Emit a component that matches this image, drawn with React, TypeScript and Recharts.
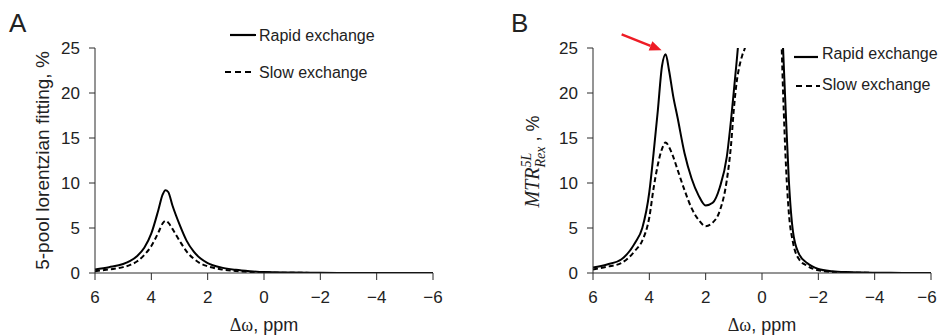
import { LineChart, Line, XAxis, YAxis, Label, ReferenceDot } from "recharts";

// chemical shift grid (ppm) and curve values (%)
const ppmA = [6, 5.5, 5, 4.75, 4.5, 4.25, 4, 3.75, 3.6, 3.5, 3.4, 3.25, 3, 2.75, 2.5, 2.25, 2, 1.5, 1, 0.5, 0, -1, -2, -3, -4, -5, -6];
const rapidA = [0.4, 0.65, 1.0, 1.35, 1.9, 2.8, 4.4, 7.0, 8.7, 9.2, 9.0, 7.5, 5.4, 3.6, 2.4, 1.6, 1.1, 0.6, 0.35, 0.2, 0.1, 0.05, 0.02, 0.01, 0, 0, 0];
const slowA = [0.2, 0.4, 0.65, 0.9, 1.3, 2.0, 3.0, 4.5, 5.5, 5.8, 5.6, 4.9, 3.6, 2.4, 1.6, 1.05, 0.75, 0.4, 0.22, 0.12, 0.06, 0.02, 0.01, 0, 0, 0, 0];

const ppmB = [6, 5.5, 5, 4.5, 4.25, 4, 3.85, 3.7, 3.55, 3.42, 3.3, 3.15, 3, 2.75, 2.5, 2.25, 2, 1.75, 1.5, 1.25, 1.1, 1, 0.9, 0.8, 0.7, 0.6, 0.5, 0.25, 0, -0.25, -0.5, -0.65, -0.75, -0.85, -0.95, -1.1, -1.3, -1.6, -2, -2.5, -3, -4, -5, -6];
const rapidB = [0.6, 0.95, 1.5, 3.4, 5.0, 9.0, 13.3, 18.0, 23.0, 24.3, 22.5, 19.6, 17.3, 13.3, 10.5, 8.6, 7.5, 7.8, 9.5, 12.9, 17.0, 20.2, 23.5, 27, 31, 36, 42, 60, 80, 70, 45, 32, 24.8, 17.4, 10.5, 4.6, 2.2, 1.1, 0.45, 0.2, 0.1, 0.03, 0.01, 0];
const slowB = [0.4, 0.7, 1.1, 2.5, 3.6, 6.2, 9.4, 12.0, 13.8, 14.5, 14.0, 12.9, 11.5, 9.2, 7.2, 5.9, 5.2, 5.6, 6.9, 10.3, 14.2, 18.2, 21.2, 23.0, 24.2, 25.1, 27, 40, 70, 60, 40, 30, 20, 12, 6.8, 3.4, 1.6, 0.8, 0.3, 0.12, 0.05, 0.01, 0, 0];

const xTicks = [6, 4, 2, 0, -2, -4, -6];
const yTicks = [0, 5, 10, 15, 20, 25];
const seriesNames = ["Rapid exchange", "Slow exchange"];

const SANS = '"Liberation Sans", Arial, Helvetica, sans-serif';
const SERIF = '"Liberation Serif", "Times New Roman", serif';
const AXIS = "#2b2b2b";
const DASH = "5 3";

const zip = (ppm: number[], rapid: number[], slow: number[]) =>
  ppm.map((p, i) => ({ ppm: p, rapid: rapid[i], slow: slow[i] }));

const dataA = zip(ppmA, rapidA, slowA);
const dataB = zip(ppmB, rapidB, slowB);

const fmt = (v: number) => (v < 0 ? `\u2212${Math.abs(v)}` : `${v}`);

// rapid-exchange peak near 3.5 ppm in panel B, for the red arrow
const peakB = dataB.filter((d) => d.ppm > 2).reduce((a, b) => (b.rapid > a.rapid ? b : a));

const XTitle = (props: any) => {
  const vb = props.viewBox || {};
  const cx = vb.x + vb.width / 2;
  return (
    <text x={cx} y={331} textAnchor="middle" fontSize={18} fill="#222">
      <tspan fontFamily={SERIF}>Δω</tspan>
      <tspan fontFamily={SANS}>, ppm</tspan>
    </text>
  );
};

const YTitleA = (props: any) => {
  const vb = props.viewBox || {};
  const cy = vb.y + vb.height / 2;
  const x = 49;
  return (
    <text x={x} y={cy} transform={`rotate(-90, ${x}, ${cy})`} textAnchor="middle" fontSize={19} fontFamily={SANS} fill="#222">
      5-pool lorentzian fitting, %
    </text>
  );
};

const YTitleB = (props: any) => {
  const vb = props.viewBox || {};
  const cy = vb.y + vb.height / 2 + 47;
  const x = 69;
  return (
    <text x={x} y={cy} transform={`rotate(-90, ${x}, ${cy})`} textAnchor="start" fill="#222">
      <tspan fontFamily={SERIF} fontStyle="italic" fontSize={20}>MTR</tspan>
      <tspan fontFamily={SERIF} fontStyle="italic" fontSize={14} dy={-8}>5L</tspan>
      <tspan fontFamily={SERIF} fontStyle="italic" fontSize={14} dx={-14.8} dy={14}>Rex</tspan>
      <tspan fontFamily={SANS} fontSize={18} dy={-6}>{" , %"}</tspan>
    </text>
  );
};

const Arrow = (props: any) => {
  const { cx, cy } = props;
  const tipX = cx - 4;
  const tipY = cy - 4;
  const tailX = cx - 44;
  const tailY = cy - 20;
  const dx = tipX - tailX;
  const dy = tipY - tailY;
  const len = Math.hypot(dx, dy);
  const ux = dx / len;
  const uy = dy / len;
  const head = 12;
  const half = 5;
  const bx = tipX - ux * head;
  const by = tipY - uy * head;
  return (
    <g>
      <line x1={tailX} y1={tailY} x2={bx} y2={by} stroke="#ee1c25" strokeWidth={2.5} />
      <polygon
        points={`${tipX},${tipY} ${bx - uy * half},${by + ux * half} ${bx + uy * half},${by - ux * half}`}
        fill="#ee1c25"
      />
    </g>
  );
};

const tickStyle = { fill: "#222", fontSize: 17, fontFamily: SANS };

// x tick; the last label of the right panel is nudged left so it stays on the page
const makeXTick = (lastShift: number) => (props: any) => {
  const { x, y, payload } = props;
  const shift = payload.value === -6 ? lastShift : 0;
  return (
    <text x={x + shift} y={y} dy="0.71em" textAnchor="middle" {...tickStyle}>
      {fmt(payload.value)}
    </text>
  );
};

function Panel({ data, width, yWidth, right, yTitle, lastShift, children }: any) {
  return (
    <LineChart width={width} height={336} data={data} margin={{ top: 48, right, left: 0, bottom: 0 }}>
      <XAxis
        dataKey="ppm"
        type="number"
        domain={[-6, 6]}
        reversed
        ticks={xTicks}
        interval={0}
        height={63}
        tickSize={7}
        tickMargin={11}
        stroke={AXIS}
        tick={makeXTick(lastShift)}
      >
        <Label content={XTitle} />
      </XAxis>
      <YAxis
        type="number"
        domain={[0, 25]}
        ticks={yTicks}
        interval={0}
        allowDataOverflow
        width={yWidth}
        tickSize={6}
        tickMargin={9}
        stroke={AXIS}
        tick={tickStyle}
      >
        <Label content={yTitle} />
      </YAxis>
      <Line
        dataKey="rapid"
        name={seriesNames[0]}
        type="monotone"
        stroke="#000"
        strokeWidth={2}
        dot={false}
        activeDot={false}
        isAnimationActive={false}
      />
      <Line
        dataKey="slow"
        name={seriesNames[1]}
        type="monotone"
        stroke="#000"
        strokeWidth={2}
        strokeDasharray={DASH}
        dot={false}
        activeDot={false}
        isAnimationActive={false}
      />
      {children}
    </LineChart>
  );
}

export default function App() {
  return (
    <div style={{ position: "absolute", left: 0, top: 0, width: 939, height: 336, background: "#fff" }}>
      <div style={{ position: "absolute", left: 0, top: 0 }}>
        <Panel data={dataA} width={470} yWidth={95} right={37} yTitle={YTitleA} lastShift={0} />
      </div>
      <div style={{ position: "absolute", left: 470, top: 0 }}>
        <Panel data={dataB} width={469} yWidth={123} right={8} yTitle={YTitleB} lastShift={-4}>
          <ReferenceDot x={peakB.ppm} y={peakB.rapid} r={0} shape={Arrow} />
        </Panel>
      </div>
      <svg
        width={939}
        height={336}
        style={{ position: "absolute", left: 0, top: 0, pointerEvents: "none" }}
        fontFamily={SANS}
        fill="#222"
      >
        <text x={9} y={32} fontSize={26}>A</text>
        <text x={511} y={32} fontSize={26}>B</text>

        <line x1={230} y1={35} x2={256} y2={35} stroke="#000" strokeWidth={2.2} />
        <text x={259} y={40.5} fontSize={16}>{seriesNames[0]}</text>
        <line x1={225} y1={72} x2={251} y2={72} stroke="#000" strokeWidth={2.2} strokeDasharray="6 4" />
        <text x={259} y={77.5} fontSize={16}>{seriesNames[1]}</text>

        <line x1={794} y1={57} x2={818} y2={57} stroke="#000" strokeWidth={2.2} />
        <text x={822} y={59} fontSize={16}>{seriesNames[0]}</text>
        <line x1={796} y1={86} x2={820} y2={86} stroke="#000" strokeWidth={2.2} strokeDasharray="6 4" />
        <text x={822} y={90} fontSize={16}>{seriesNames[1]}</text>
      </svg>
    </div>
  );
}
